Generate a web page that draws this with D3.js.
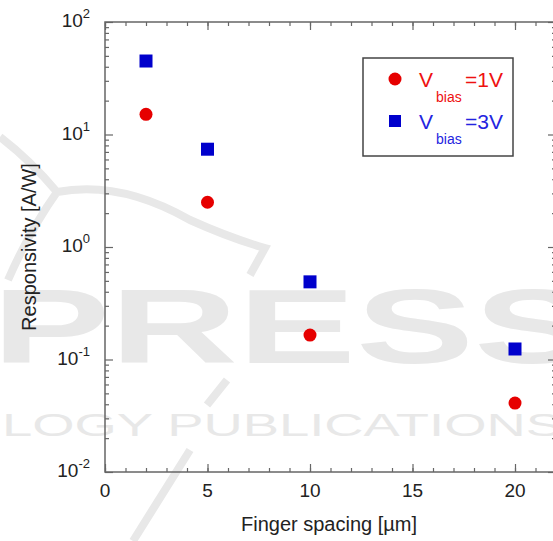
<!DOCTYPE html>
<html>
<head>
<meta charset="utf-8">
<script src="https://cdn.jsdelivr.net/npm/d3@7"></script>
<style>
  body { margin: 0; background: #fff; }
  text { font-family: "Liberation Sans", Arial, sans-serif; }
</style>
</head>
<body>
<div id="chart"></div>
<script>
// data
var spacing = [2, 5, 10, 20];
var resp1V = [15.1, 2.5, 0.165, 0.041];
var resp3V = [45, 7.4, 0.49, 0.124];
var xTickLabels = [0, 5, 10, 15, 20];
var yDecades = [-2, -1, 0, 1, 2];
var seriesNames = ["=1V", "=3V"];

var W = 553, H = 541;
var margin = {top: 22, right: -3, bottom: 69, left: 105},
    width = W - margin.left - margin.right,
    height = H - margin.top - margin.bottom;

var svg = d3.select("#chart").append("svg")
    .attr("width", W)
    .attr("height", H);

// faint publisher watermark behind the plot
var wmColor = "#e8e8e8";
var wm = svg.append("g").attr("fill", wmColor).attr("stroke", "none");
wm.append("path")
    .attr("d", "M0,137 Q30,160 57,192 Q120,180 190,220 Q230,238 265,248 L250,275 M57,192 Q30,230 8,280 M227,380 L207,405 M190,450 L133,541")
    .attr("fill", "none").attr("stroke", wmColor).attr("stroke-width", 8);
wm.append("text")
    .attr("x", 292).attr("y", 363)
    .attr("text-anchor", "middle")
    .attr("font-size", 106).attr("font-weight", "bold")
    .attr("textLength", 600).attr("lengthAdjust", "spacingAndGlyphs")
    .text("PRESS");
wm.append("text")
    .attr("x", 2).attr("y", 436)
    .attr("font-size", 31)
    .attr("textLength", 560).attr("lengthAdjust", "spacingAndGlyphs")
    .text("LOGY PUBLICATIONS");

var g = svg.append("g")
    .attr("transform", "translate(" + margin.left + "," + margin.top + ")");

var x = d3.scaleLinear().domain([0, 22]).range([0, width]);
var y = d3.scaleLog().domain([0.01, 100]).range([height, 0]);

var axisColor = "#666";

// minor/major ticks (all pointing inward)
var xMinor = d3.range(0, 23);
var yMinor = [];
yDecades.slice(0, -1).forEach(function(e) {
    for (var k = 2; k <= 9; k++) yMinor.push(k * Math.pow(10, e));
});
var yMajor = yDecades.map(function(e) { return Math.pow(10, e); });

function styleAxis(sel) {
    sel.select(".domain").remove();
    sel.selectAll("line").attr("stroke", axisColor).attr("stroke-width", 1.2);
    sel.selectAll("text").remove();
}

g.append("g").attr("transform", "translate(0," + height + ")")
    .call(d3.axisBottom(x).tickValues(xMinor).tickSize(-4)).call(styleAxis);
g.append("g").attr("transform", "translate(0," + height + ")")
    .call(d3.axisBottom(x).tickValues(xTickLabels).tickSize(-8)).call(styleAxis);
g.append("g")
    .call(d3.axisTop(x).tickValues(xMinor).tickSize(-4)).call(styleAxis);
g.append("g")
    .call(d3.axisTop(x).tickValues(xTickLabels).tickSize(-8)).call(styleAxis);

g.append("g")
    .call(d3.axisLeft(y).tickValues(yMinor).tickSize(-4)).call(styleAxis);
g.append("g")
    .call(d3.axisLeft(y).tickValues(yMajor).tickSize(-8)).call(styleAxis);
g.append("g").attr("transform", "translate(" + width + ",0)")
    .call(d3.axisRight(y).tickValues(yMinor).tickSize(-4)).call(styleAxis);
g.append("g").attr("transform", "translate(" + width + ",0)")
    .call(d3.axisRight(y).tickValues(yMajor).tickSize(-8)).call(styleAxis);

// frame
g.append("rect")
    .attr("width", width).attr("height", height)
    .attr("fill", "none").attr("stroke", axisColor).attr("stroke-width", 1.5);

// x tick labels
g.selectAll(".xlab").data(xTickLabels).enter().append("text")
    .attr("x", function(d) { return x(d); })
    .attr("y", height + 25)
    .attr("text-anchor", "middle")
    .attr("font-size", 19)
    .attr("fill", "#222")
    .text(function(d) { return d; });

// y tick labels 10^n
var ylab = g.selectAll(".ylab").data(yDecades).enter().append("text")
    .attr("x", -15)
    .attr("y", function(d) { return y(Math.pow(10, d)) + 5; })
    .attr("text-anchor", "end")
    .attr("font-size", 19)
    .attr("fill", "#222");
ylab.append("tspan").text("10");
ylab.append("tspan")
    .attr("font-size", 13)
    .attr("dy", -9)
    .text(function(d) { return d; });

// axis titles
svg.append("text")
    .attr("x", 329).attr("y", 531)
    .attr("text-anchor", "middle")
    .attr("font-size", 20)
    .attr("fill", "#222")
    .text("Finger spacing [\u00b5m]");
svg.append("text")
    .attr("transform", "translate(36,247) rotate(-90)")
    .attr("text-anchor", "middle")
    .attr("font-size", 20)
    .attr("fill", "#222")
    .text("Responsivity [A/W]");

// data markers
var red = "#e60000", blue = "#0000cc";
g.selectAll(".c1").data(spacing).enter().append("circle")
    .attr("cx", function(d) { return x(d); })
    .attr("cy", function(d, i) { return y(resp1V[i]); })
    .attr("r", 6.5)
    .attr("fill", red);
g.selectAll(".s3").data(spacing).enter().append("rect")
    .attr("x", function(d) { return x(d) - 6.5; })
    .attr("y", function(d, i) { return y(resp3V[i]) - 6.5; })
    .attr("width", 13).attr("height", 13)
    .attr("fill", blue);

// legend
var leg = svg.append("g").attr("transform", "translate(363,58)");
leg.append("rect")
    .attr("width", 150).attr("height", 98)
    .attr("fill", "#fff").attr("stroke", "#444").attr("stroke-width", 1.5);
leg.append("circle").attr("cx", 32).attr("cy", 21).attr("r", 6.5).attr("fill", red);
leg.append("rect").attr("x", 26).attr("y", 57).attr("width", 12).attr("height", 12).attr("fill", blue);

var legColors = ["#ee1111", "#2424e0"];
seriesNames.forEach(function(name, i) {
    var base = 29 + i * 42;
    leg.append("text").attr("x", 56).attr("y", base)
        .attr("font-size", 21).attr("fill", legColors[i]).text("V");
    leg.append("text").attr("x", 73).attr("y", base + 15)
        .attr("font-size", 14).attr("fill", legColors[i]).text("bias");
    leg.append("text").attr("x", 102).attr("y", base)
        .attr("font-size", 21).attr("fill", legColors[i]).text(name);
});
</script>
</body>
</html>
